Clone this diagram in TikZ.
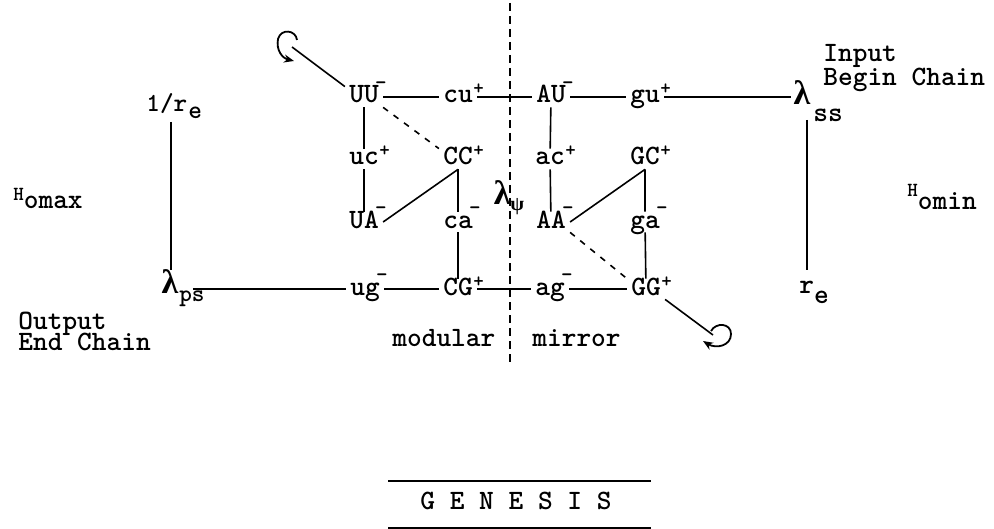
\documentclass[tikz,border=0pt]{standalone}
\usepackage{fontspec}
\newfontfamily\lamfont{Liberation Serif}
\usetikzlibrary{arrows.meta,calc}
\newcommand\pl{\rlap{\kern0.3pt\raisebox{4pt}{\fontsize{10}{10}\selectfont +}}}
\newcommand\mn{\rlap{\kern-1.8pt\raisebox{6.8pt}{\fontsize{11}{11}\selectfont -}}}
\newcommand\lam{{\lamfont\bfseries\fontsize{17}{17}\selectfont λ}}
\begin{document}
\begin{tikzpicture}[x=0.5pt,y=-0.5pt,
  lbl/.style={font=\fontsize{14}{14}\selectfont\ttfamily\bfseries, inner sep=2pt, text height=6pt, text depth=0pt},
  txt/.style={font=\fontsize{14}{14}\selectfont\ttfamily\bfseries, inner sep=0pt, anchor=base west},
  lamnode/.style={inner sep=1pt, anchor=base, font=\fontsize{14}{14}\selectfont\ttfamily\bfseries},
  conn/.style={line width=0.8pt},
  dotconn/.style={line width=0.8pt, dash pattern=on 3pt off 3.5pt},
  midline/.style={line width=0.7pt, dash pattern=on 4pt off 2.5pt},
  looparrow/.style={line width=0.9pt, -{Stealth[length=5pt,width=4pt]}}]
\useasboundingbox (0,0) rectangle (994,529);

% grid of nodes
\node[lbl] (UU) at (364,97) {UU\mn};
\node[lbl] (cu) at (458,97) {cu\pl};
\node[lbl] (AU) at (551,97) {AU\mn};
\node[lbl] (gu) at (645,97) {gu\pl};

\node[lbl] (uc) at (364,159) {uc\pl};
\node[lbl] (CC) at (458,159) {CC\pl};
\node[lbl] (ac) at (550,159) {ac\pl};
\node[lbl] (GC) at (645,159) {GC\pl};

\node[lbl] (UA) at (364,222) {UA\mn};
\node[lbl] (ca) at (458,222) {ca\mn};
\node[lbl] (AA) at (551,222) {AA\mn};
\node[lbl] (ga) at (645,222) {ga\mn};

\node[lbl] (ug) at (365,289) {ug\mn};
\node[lbl] (CG) at (458,289) {CG\pl};
\node[lbl] (ag) at (550,289) {ag\mn};
\node[lbl] (GG) at (646,289) {GG\pl};

% lambda nodes
\node[lamnode] (lss) at (802,105) {\lam\rlap{\raisebox{-8.5pt}{\kern1.5pt ss}}};
\node[lamnode] (lps) at (170,293) {\lam\rlap{\raisebox{-4pt}{\kern0.5pt\fontsize{12}{12}\selectfont ps}}};
\node[lamnode] (lpsi) at (509,205) {\lam\raisebox{-3pt}{\lamfont\bfseries\fontsize{10}{10}\selectfont ψ}};

% side labels
\node[txt, font=\fontsize{13}{13}\selectfont\ttfamily\bfseries] (one) at (146,112) {1/r\rlap{\raisebox{-3.5pt}{\kern0.5pt e}}};
\node[txt] (re) at (799,293) {r\rlap{\raisebox{-5pt}{e}}};
\node[txt] (hmax) at (13,208) {\raisebox{4pt}{\fontsize{10}{10}\selectfont H}omax};
\node[txt] (hmin) at (907,210) {\raisebox{6.5pt}{\fontsize{10}{10}\selectfont H}omin};
\node[txt] (out1) at (18,329) {Output};
\node[txt] (out2) at (18,350) {End Chain};
\node[txt] (in1) at (823,62) {Input};
\node[txt] (in2) at (823,86) {Begin Chain};
\node[txt] (modular) at (392,346) {modular};
\node[txt] (mirror) at (532,346) {mirror};
\node[txt] (genesis) at (420,509) {G E N E S I S};

% dashed mirror line
\coordinate (dtop) at (510,3);
\coordinate (dbot) at (510,362);
\draw[midline] (dtop) -- (dbot);

% horizontal connectors
\draw[conn] (UU) -- (cu) -- (AU) -- (gu) -- (lss.west |- gu);
\draw[conn] ([xshift=6pt]lps.east |- ug) -- (ug) -- (CG) -- (ag) -- (GG);

% vertical connectors
\draw[conn] (UU) -- (uc) -- (UA);
\draw[conn] (CC) -- (ca) -- (CG);
\draw[conn] (AU) -- (ac) -- (AA);
\draw[conn] (GC) -- (ga) -- (GG);
\draw[conn] ($(lps.base)+(1,-171)$) -- ($(lps.base)+(1,-23)$);
\draw[conn] ($(lss.base)+(5,15)$) -- ($(re.base west)+(8,-23)$);

% diagonals
\draw[conn] (CC.south) -- (UA.east);
\draw[conn] (GC.south) -- (AA.east);
\draw[dotconn] (UU.south east) -- (CC.north west);
\draw[dotconn] (AA.south east) -- (GG.north west);

% loops
\coordinate (loopA) at (292,47);
\coordinate (loopB) at (713,335);
\draw[conn] (UU.north west) -- (loopA);
\draw[conn] (GG.south east) -- (loopB);
\draw[looparrow] (297,40) .. controls (296,30) and (281,28) .. (278,39) .. controls (276,50) and (282,58) .. (294,61);
\draw[looparrow] (711,331) .. controls (716,322) and (731,323) .. (731,334) .. controls (731,346) and (716,349) .. (703,341);

% genesis rules
\draw[line width=1pt] (388,481) -- (651,481);
\draw[line width=1pt] (388,528) -- (651,528);
\end{tikzpicture}
\end{document}
